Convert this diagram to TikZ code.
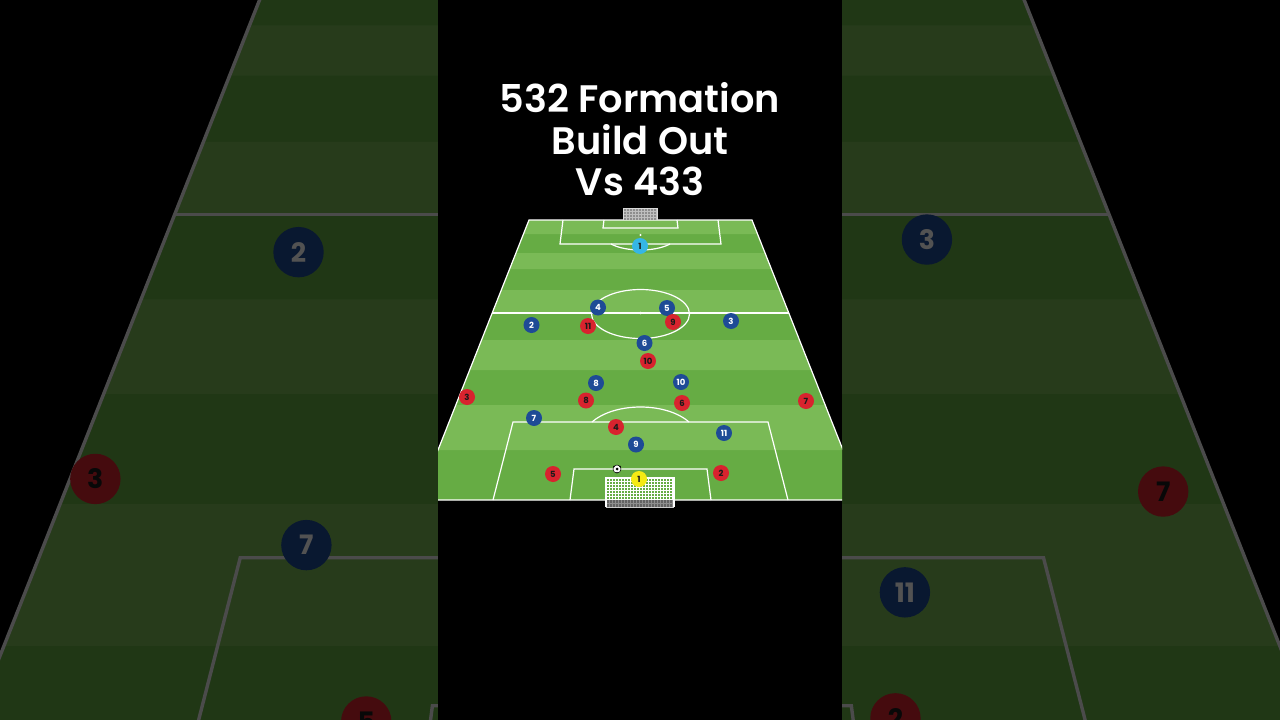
\documentclass[tikz,border=0pt]{standalone}
\usepackage{fontspec}
\setmainfont{Poppins}
\IfFontExistsTF{Poppins SemiBold}{%
  \newfontfamily\titlefont{Poppins SemiBold}\def\titlebf{}}{%
  \IfFontExistsTF{Poppins Medium}{%
    \newfontfamily\titlefont{Poppins Medium}\def\titlebf{}}{%
    \newfontfamily\titlefont{Lato}\def\titlebf{\bfseries}}}
\definecolor{pitchL}{HTML}{7ABA56}
\definecolor{pitchD}{HTML}{66AC44}
\definecolor{tBlue}{HTML}{1E4B96}
\definecolor{tRed}{HTML}{D8232E}
\definecolor{tCyan}{HTML}{35B6E6}
\definecolor{tYel}{HTML}{F5EA14}
\definecolor{netG}{HTML}{8E8E8E}
\definecolor{txtD}{HTML}{1A1A1A}
\tikzset{
  pline/.style={draw=white, line width=1.2pt},
  token/.style={circle, inner sep=0pt, minimum size=16pt, font=\fontsize{8.5}{9}\selectfont\bfseries},
  blueT/.style={token, fill=tBlue, text=white},
  redT/.style={token, fill=tRed, text=txtD},
  cyanT/.style={token, fill=tCyan, text=txtD},
  yelT/.style={token, fill=tYel, text=txtD},
  netline/.style={draw=white, line width=0.35pt},
  titletext/.style={text=white, anchor=base, font=\titlefont\titlebf\fontsize{38.3}{41.5}\selectfont}
}
\newcommand\pitchdraw[1]{%
  % turf
  \fill[pitchD] (529,220) -- (752,220) -- (862.8,500) -- (418.2,500) -- cycle;
  \fill[pitchL] (529,220) -- (752,220) -- (757.54,234) -- (523.46,234) -- cycle;
  \fill[pitchL] (515.94,253) -- (765.06,253) -- (771.39,269) -- (509.61,269) -- cycle;
  \fill[pitchL] (501.30,290) -- (779.70,290) -- (788.80,313) -- (492.20,313) -- cycle;
  \fill[pitchL] (481.52,340) -- (799.48,340) -- (811.35,370) -- (469.65,370) -- cycle;
  \fill[pitchL] (455.80,405) -- (825.20,405) -- (843.01,450) -- (437.99,450) -- cycle;
  % markings
  \draw[pline] (529,220) -- (752,220) -- (862.8,500) -- (418.2,500) -- cycle;
  \draw[pline] (492.2,313) -- (788.8,313);
  \draw[pline] (640.5,314) ellipse [x radius=49, y radius=24.5];
  \fill[white] (640.5,313) circle [radius=1.3];
  % top end
  \draw[pline] (563,220) -- (560,244) -- (721,244) -- (718,220);
  \draw[pline] (604,220) -- (603,228) -- (678,228) -- (677,220);
  \fill[white] (640.5,235) circle [radius=1.1];
  \draw[pline] (611,244) .. controls (626,252) and (655,252) .. (670,244);
  \fill[netG] (623,208) rectangle (657,220);
  \foreach \xx in {626,629,...,656} \draw[draw=white!75!black, line width=0.3pt] (\xx,208) -- (\xx,220);
  \foreach \yy in {211,214,217} \draw[draw=white!75!black, line width=0.3pt] (623,\yy) -- (657,\yy);
  \draw[draw=white!85!black, line width=0.8pt] (623,220) -- (623,208) -- (657,208) -- (657,220);
  % bottom end
  \draw[pline] (493,500) -- (513,422) -- (768,422) -- (788,500);
  \draw[pline] (592,422) .. controls (615,402) and (666,402) .. (689,422);
  \draw[pline] (570,500) -- (574,469) -- (707,469) -- (711,500);
  \fill[white] (640.5,445) circle [radius=1.1];
  % bottom goal
  \foreach \xx in {609,612,...,672} \draw[netline] (\xx,478) -- (\xx,500);
  \foreach \yy in {481,484,...,499} \draw[netline] (606,\yy) -- (674,\yy);
  \fill[netG!70!black] (606,500) rectangle (674,507);
  \foreach \xx in {609,612,...,672} \draw[draw=netG, line width=0.3pt] (\xx,500) -- (\xx,507);
  \draw[draw=netG, line width=0.3pt] (606,503.5) -- (674,503.5);
  \draw[draw=white, line width=1.6pt] (606,507) -- (606,478) -- (674,478) -- (674,507);
  \draw[draw=white!80!black, line width=0.8pt] (606,507) -- (674,507);
  % ball
  \node[circle, fill=white, draw=black, line width=0.5pt, inner sep=0pt, minimum size=8pt] (#1ball) at (617,469) {};
  \fill[black] (617,469) circle [radius=1.5];
  \fill[black] (614,466.5) circle [radius=0.8];
  \fill[black] (620,466.5) circle [radius=0.8];
  \fill[black] (617,472.6) circle [radius=0.8];
  % players
  \node[cyanT] (#1c1) at (640,246) {1};
  \node[blueT] (#1b4) at (598,307.5) {4};
  \node[blueT] (#1b5) at (667,308) {5};
  \node[blueT] (#1b2) at (531.5,325) {2};
  \node[redT]  (#1r11) at (588,326) {11};
  \node[redT]  (#1r9) at (673,322) {9};
  \node[blueT] (#1b3) at (731,321) {3};
  \node[blueT] (#1b6) at (644.5,343) {6};
  \node[redT]  (#1r10) at (648,361) {10};
  \node[blueT] (#1b8) at (596,383) {8};
  \node[blueT] (#1b10) at (681,382) {10};
  \node[redT]  (#1r3) at (467,397) {3};
  \node[redT]  (#1r8) at (586,400.5) {8};
  \node[redT]  (#1r6) at (682,403) {6};
  \node[redT]  (#1r7) at (806,401) {7};
  \node[blueT] (#1b7) at (534,418) {7};
  \node[redT]  (#1r4) at (616,427) {4};
  \node[blueT] (#1b11) at (724,433) {11};
  \node[blueT] (#1b9) at (636,444.5) {9};
  \node[redT]  (#1r5) at (553,474) {5};
  \node[redT]  (#1r2) at (721,473) {2};
  \node[yelT]  (#1y1) at (639,479) {1};
}
\begin{document}
\begin{tikzpicture}[x=1pt,y=-1pt]
\useasboundingbox (0,0) rectangle (1280,720);
\fill[black] (0,0) rectangle (1280,720);
% darkened background copy
\begin{scope}
  \clip (0,0) rectangle (1280,720);
  \begin{scope}[shift={(-1375.7,-771.6)}, scale=3.15, transform shape,
      pline/.style={draw=white!85!gray, line width=3.4pt}]
    \pitchdraw{bg}
  \end{scope}
  \fill[black, opacity=0.68] (0,0) rectangle (1280,720);
\end{scope}
% central panel
\fill[black] (438,0) rectangle (842,720);
\begin{scope}
  \clip (438,0) rectangle (842,720);
  \pitchdraw{fg}
\end{scope}
% title
\node[titletext] (title1) at (640,112.7) {532 Formation};
\node[titletext] (title2) at (640,154) {Build Out};
\node[titletext] (title3) at (640,195.7) {Vs 433};
\end{tikzpicture}
\end{document}
